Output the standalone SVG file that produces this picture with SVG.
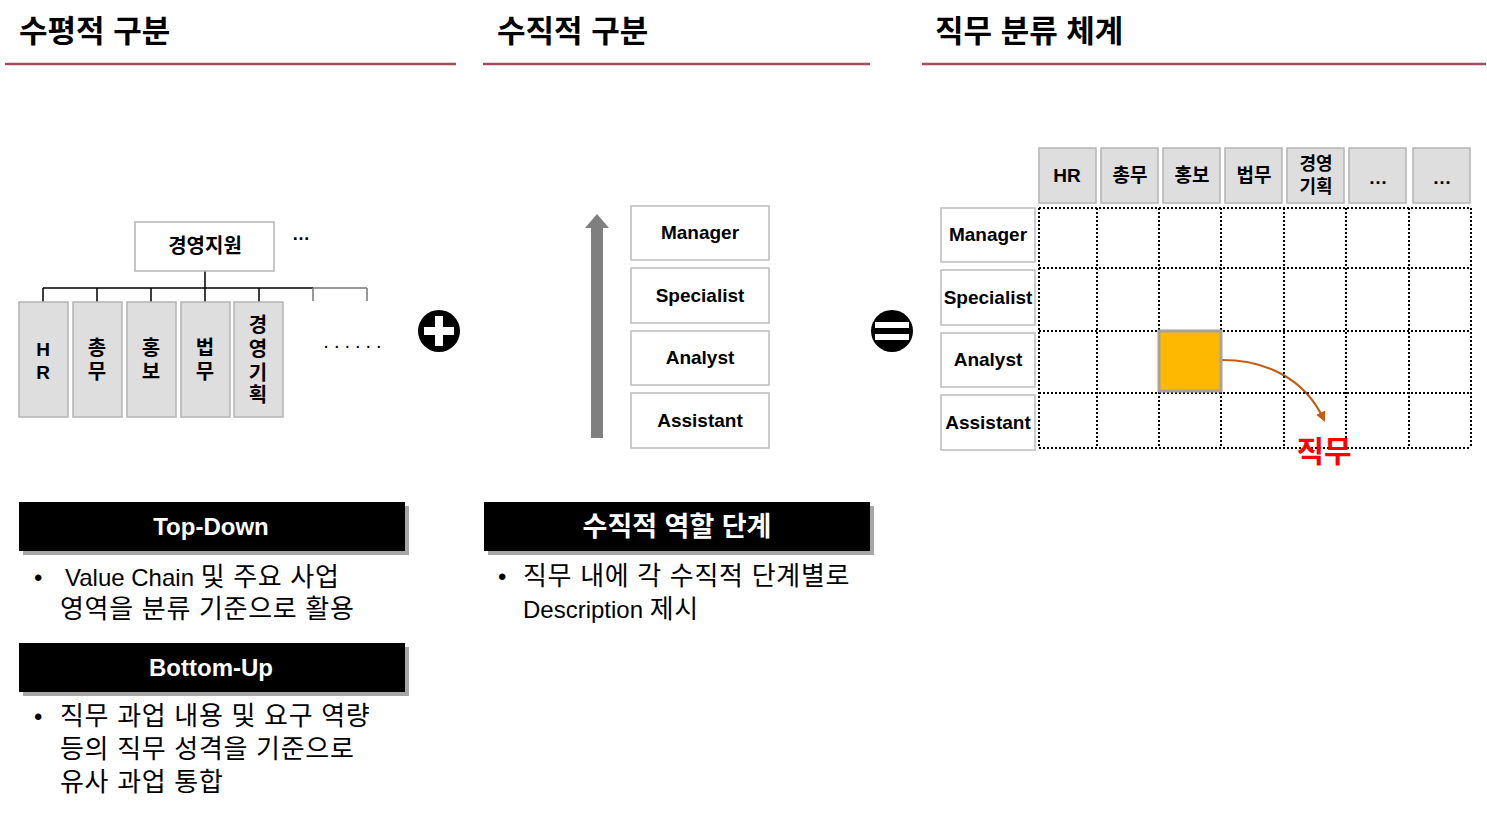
<svg xmlns="http://www.w3.org/2000/svg" width="1487" height="813" viewBox="0 0 1487 813">
<defs>
<style>
text{font-family:"Liberation Sans","Noto Sans CJK KR",sans-serif;fill:#000}
.title{font-size:31px;font-weight:bold}
.hline{stroke:#a24b5c;stroke-width:2.5}
.org{fill:#fff;stroke:#b4b4b4;stroke-width:1.5}
.gbox{fill:#dedede;stroke:#b4b4b4;stroke-width:1.5}
.lbl{fill:#fff;stroke:#bcbcbc;stroke-width:1.5}
.b18{font-size:18px;font-weight:bold;text-anchor:middle}
.b19{font-size:19px;font-weight:bold;text-anchor:middle}
.b20{font-size:20px;font-weight:bold;text-anchor:middle}
.tree{stroke:#000;stroke-width:1.5;fill:none}
.treeg{stroke:#777;stroke-width:1.5;fill:none}
.dot{stroke:#000;stroke-width:2;stroke-dasharray:2 2;fill:none}
.band{fill:#000}
.shadow{fill:#a6a6a6}
.bandt{font-size:24px;font-weight:bold;fill:#fff;text-anchor:middle}
.bandk{font-size:27px;font-weight:bold;fill:#fff;text-anchor:middle}
.body{font-size:26px;letter-spacing:0.7px}
.lat{font-size:24px;letter-spacing:0}
</style>
<marker id="ah" viewBox="0 0 10 10" refX="8" refY="5" markerWidth="5" markerHeight="5" orient="auto">
<path d="M0,0 L10,5 L0,10 z" fill="#c55a11"/>
</marker>
</defs>
<rect width="1487" height="813" fill="#fff"/>

<g id="headers">
<text class="title" x="19" y="42">수평적 구분</text>
<line class="hline" x1="5" y1="64" x2="456" y2="64"/>
<text class="title" x="497" y="42">수직적 구분</text>
<line class="hline" x1="483" y1="64" x2="870" y2="64"/>
<text class="title" x="935" y="42">직무 분류 체계</text>
<line class="hline" x1="922" y1="64" x2="1486" y2="64"/>
</g>

<g id="connectors">
<path class="tree" d="M205,271 V288 M43,288 H313 M43,288 V302 M97,288 V302 M151,288 V302 M205,288 V302 M259,288 V302"/>
<path class="treeg" d="M313,288 H367 M313,288 V301 M367,288 V301"/>
<path d="M1222,360 C1265,360 1305,378 1324,420" fill="none" stroke="#c55a11" stroke-width="2" marker-end="url(#ah)"/>
</g>

<g id="org-root">
<rect class="org" x="135" y="222" width="139" height="49"/>
<text class="b20" x="205" y="253">경영지원</text>
<text x="301" y="240" font-size="18" font-weight="bold" text-anchor="middle">…</text>
</g>
<g id="org-hr"><rect class="gbox" x="19" y="302" width="49" height="115"/>
<text class="b19" x="43" y="356">H</text><text class="b19" x="43" y="379">R</text></g>
<g id="org-chongmu"><rect class="gbox" x="73" y="302" width="49" height="115"/>
<text class="b20" x="97" y="355">총</text><text class="b20" x="97" y="379">무</text></g>
<g id="org-hongbo"><rect class="gbox" x="127" y="302" width="49" height="115"/>
<text class="b20" x="151" y="355">홍</text><text class="b20" x="151" y="379">보</text></g>
<g id="org-beopmu"><rect class="gbox" x="181" y="302" width="49" height="115"/>
<text class="b20" x="205" y="355">법</text><text class="b20" x="205" y="379">무</text></g>
<g id="org-gyeongyeong"><rect class="gbox" x="234" y="302" width="49" height="115"/>
<text class="b20" x="258" y="332">경</text><text class="b20" x="258" y="356">영</text><text class="b20" x="258" y="380">기</text><text class="b20" x="258" y="402">획</text></g>
<g id="org-more"><text x="355" y="348" font-size="20" text-anchor="middle" letter-spacing="5">......</text></g>

<g id="plus">
<circle cx="439" cy="331" r="21" fill="#000"/>
<rect x="424" y="327" width="30" height="8" fill="#fff"/>
<rect x="435" y="316" width="8" height="30" fill="#fff"/>
</g>

<g id="level-arrow">
<path d="M591,438 V228 H585 L597,214 L609,228 H603 V438 Z" fill="#7f7f7f"/>
</g>
<g id="lv-manager"><rect class="lbl" x="631" y="206" width="138" height="54"/><text class="b19" x="700" y="239">Manager</text></g>
<g id="lv-specialist"><rect class="lbl" x="631" y="268" width="138" height="55"/><text class="b19" x="700" y="302">Specialist</text></g>
<g id="lv-analyst"><rect class="lbl" x="631" y="331" width="138" height="54"/><text class="b19" x="700" y="364">Analyst</text></g>
<g id="lv-assistant"><rect class="lbl" x="631" y="393" width="138" height="55"/><text class="b19" x="700" y="427">Assistant</text></g>

<g id="equals">
<circle cx="892" cy="331" r="21" fill="#000"/>
<rect x="875" y="322" width="34" height="6" fill="#fff"/>
<rect x="875" y="334" width="34" height="6" fill="#fff"/>
</g>

<g id="col-headers">
<rect class="gbox" x="1039" y="148" width="57" height="55"/><text class="b19" x="1067" y="182">HR</text>
<rect class="gbox" x="1101" y="148" width="57" height="55"/><text class="b19" x="1130" y="182">총무</text>
<rect class="gbox" x="1163" y="148" width="57" height="55"/><text class="b19" x="1192" y="182">홍보</text>
<rect class="gbox" x="1225" y="148" width="57" height="55"/><text class="b19" x="1254" y="182">법무</text>
<rect class="gbox" x="1287" y="148" width="57" height="55"/><text class="b18" x="1316" y="170">경영</text><text class="b18" x="1316" y="193">기획</text>
<rect class="gbox" x="1349" y="148" width="57" height="55"/><text class="b19" x="1378" y="184">…</text>
<rect class="gbox" x="1413" y="148" width="57" height="55"/><text class="b19" x="1442" y="184">…</text>
</g>
<g id="row-labels">
<rect class="lbl" x="941" y="208" width="94" height="54"/><text class="b19" x="988" y="241">Manager</text>
<rect class="lbl" x="941" y="270" width="94" height="55"/><text class="b19" x="988" y="304">Specialist</text>
<rect class="lbl" x="941" y="333" width="94" height="54"/><text class="b19" x="988" y="366">Analyst</text>
<rect class="lbl" x="941" y="395" width="94" height="55"/><text class="b19" x="988" y="429">Assistant</text>
</g>
<g id="grid">
<path class="dot" d="M1039,208 H1471 M1039,268 H1471 M1039,331 H1471 M1039,393 H1471 M1039,448 H1471 M1039,208 V448 M1097,208 V448 M1159,208 V448 M1221,208 V448 M1284,208 V448 M1346,208 V448 M1409,208 V448 M1471,208 V448"/>
</g>
<g id="job-cell">
<rect x="1159" y="331" width="62" height="60" fill="#ffb800" stroke="#a8a29a" stroke-width="3"/>
</g>
<g id="job-label">
<text x="1324" y="462" font-size="30" font-weight="bold" style="fill:#ff0000" text-anchor="middle">직무</text>
</g>

<g id="topdown">
<rect class="shadow" x="23" y="506" width="386" height="49"/>
<rect class="band" x="19" y="502" width="386" height="49"/>
<text class="bandt" x="211" y="535">Top-Down</text>
<text class="lat" x="34" y="586">•</text>
<text class="body" x="65" y="586"><tspan class="lat">Value Chain </tspan>및 주요 사업</text>
<text class="body" x="60" y="618">영역을 분류 기준으로 활용</text>
</g>
<g id="bottomup">
<rect class="shadow" x="23" y="647" width="386" height="49"/>
<rect class="band" x="19" y="643" width="386" height="49"/>
<text class="bandt" x="211" y="676">Bottom-Up</text>
<text class="lat" x="34" y="725">•</text>
<text class="body" x="60" y="725">직무 과업 내용 및 요구 역량</text>
<text class="body" x="60" y="758">등의 직무 성격을 기준으로</text>
<text class="body" x="60" y="791">유사 과업 통합</text>
</g>
<g id="vertical-role">
<rect class="shadow" x="488" y="506" width="386" height="49"/>
<rect class="band" x="484" y="502" width="386" height="49"/>
<text class="bandk" x="677" y="536">수직적 역할 단계</text>
<text class="lat" x="498" y="585">•</text>
<text class="body" x="523" y="585">직무 내에 각 수직적 단계별로</text>
<text class="body" x="523" y="618"><tspan class="lat">Description </tspan>제시</text>
</g>
</svg>
